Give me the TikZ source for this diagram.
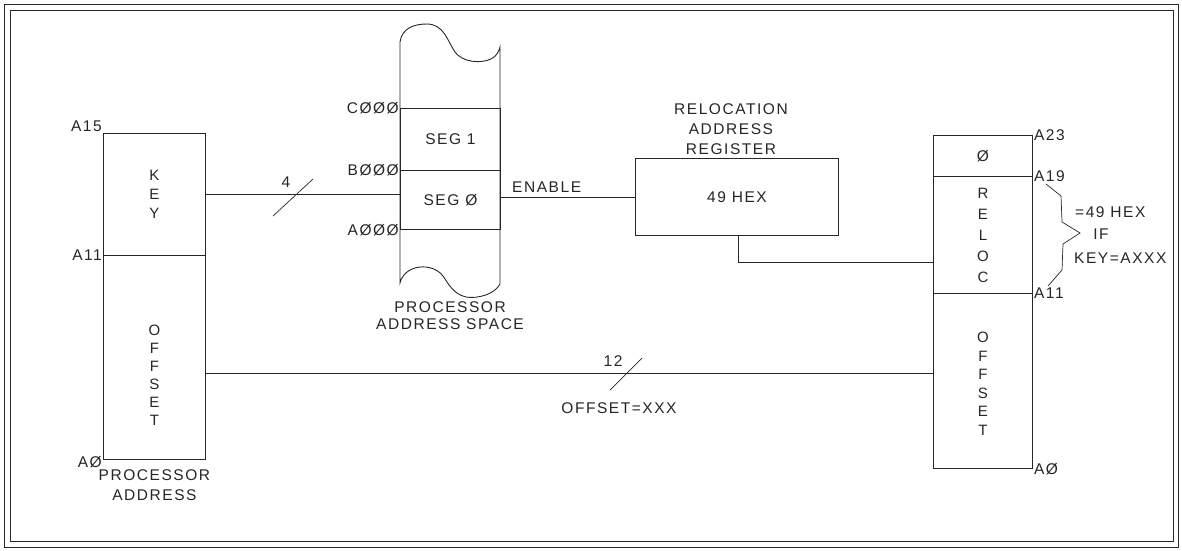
\documentclass[tikz,border=0pt]{standalone}
\usepackage{fontspec}
\newfontfamily\pf[LetterSpace=10]{Liberation Sans}
\begin{document}
\begin{tikzpicture}[x=1pt,y=-1pt,
  every node/.style={font=\pf\fontsize{15.5}{18}\selectfont, text=black!85},
  ln/.style={draw=black!85, line width=0.9pt},
  part/.style={ln, inner sep=0pt, anchor=north west},
  stack/.style={align=center, inner sep=0pt},
  lbl/.style={inner sep=1pt}]
\useasboundingbox (0,0) rectangle (1182,550);
% frame
\draw[ln] (4,4) rectangle (1178,547);
\draw[ln] (10,10) rectangle (1173,541);

% processor address (left)
\node[part, minimum width=102pt, minimum height=122pt] (keyL) at (103,133) {};
\node[part, minimum width=102pt, minimum height=204pt] (offL) at (103,255) {};
\node[stack, font=\pf\fontsize{15}{19}\selectfont] (keyT) at (keyL.center) {K\\E\\Y};
\node[stack, font=\pf\fontsize{15}{18}\selectfont] (offT) at ([yshift=-18pt]offL.center) {O\\F\\F\\S\\E\\T};
\node[lbl, anchor=south east] (a15) at (keyL.north west) {A15};
\node[lbl, anchor=east] (a11) at (offL.north west) {A11};
\node[lbl, anchor=east] (a0l) at ([yshift=-2pt]offL.south west) {AØ};
\node[stack, anchor=north, font=\pf\fontsize{15.5}{20}\selectfont] (paT) at ([yshift=-10pt]offL.south) {PROCESSOR\\ADDRESS};

% processor address space (memory)
\draw[ln] (400,283) -- (400,42)
  .. controls (402,28) and (414,24) .. (427,24)
  .. controls (444,24) and (448,42) .. (455,52)
  .. controls (462,62) and (480,64) .. (491,59)
  .. controls (497,56) and (499,51) .. (500,47)
  -- (500,284)
  .. controls (495,294) and (478,299) .. (466,297)
  .. controls (453,294) and (448,283) .. (443,276)
  .. controls (437,268) and (425,265) .. (415,268)
  .. controls (405,271) and (401,278) .. (400,283) -- cycle;
\node[part, minimum width=100pt, minimum height=62pt] (seg1) at (400,108) {};
\node[part, minimum width=100pt, minimum height=59pt] (seg0) at (400,170) {};
\node at (seg1.center) {SEG 1};
\node at (seg0.center) {SEG Ø};
\node[lbl, anchor=east] (c000) at (seg1.north west) {CØØØ};
\node[lbl, anchor=east] (b000) at (seg0.north west) {BØØØ};
\node[lbl, anchor=east] (a000) at (seg0.south west) {AØØØ};
\node[stack, font=\pf\fontsize{15.5}{17}\selectfont] (pasT) at (450,316) {PROCESSOR\\ADDRESS SPACE};

% relocation address register
\node[part, minimum width=203pt, minimum height=77pt] (reg) at (635,158) {};
\node at (reg.center) {49 HEX};
\node[stack, anchor=south, font=\pf\fontsize{15.5}{20}\selectfont] (regT) at ([xshift=-6pt,yshift=3pt]reg.north) {RELOCATION\\ADDRESS\\REGISTER};

% relocated address (right)
\node[part, minimum width=99pt, minimum height=41pt] (r0) at (933,135) {};
\node[part, minimum width=99pt, minimum height=117pt] (rrel) at (933,176) {};
\node[part, minimum width=99pt, minimum height=175pt] (roff) at (933,293) {};
\node at (r0.center) {Ø};
\node[stack, font=\pf\fontsize{15}{21}\selectfont] (relT) at (rrel.center) {R\\E\\L\\O\\C};
\node[stack, font=\pf\fontsize{15}{18.5}\selectfont] (roffT) at ([yshift=-3pt]roff.center) {O\\F\\F\\S\\E\\T};
\node[lbl, anchor=west] (a23) at (r0.north east) {A23};
\node[lbl, anchor=west] (a19) at (rrel.north east) {A19};
\node[lbl, anchor=west] (a11r) at (roff.north east) {A11};
\node[lbl, anchor=west] (a0r) at (roff.south east) {AØ};

% brace
\coordinate (tip) at (1080,233);
\draw[ln, line width=0.7pt] (1046,184) -- (1061,196) -- (1062,222) -- (tip) -- (1063,244) -- (1062,270) -- (1048,286);
\node[anchor=west, inner sep=0pt] (eq) at (1075,212) {=49 HEX};
\node[inner sep=0pt] (ifT) at (1101,234) {IF};
\node[anchor=west, inner sep=0pt] (keyeq) at (1074,258) {KEY=AXXX};

% connectors
\draw[ln] (keyL.east) -- (keyL.east -| seg0.west);
\coordinate (k4) at (290,194);
\draw[ln, line width=0.7pt] ([shift={(-17,22)}]k4) -- ([shift={(23,-15)}]k4);
\node[inner sep=0pt] (four) at (286,182) {4};

\draw[ln] (seg0.east |- reg.west) -- (reg.west);
\node[anchor=south west, inner sep=0pt] (en) at (512,193) {ENABLE};

\coordinate (bend) at (738,262);
\draw[ln] (reg.south -| bend) -- (bend) -- (bend -| rrel.west);

\coordinate (oy) at (0,373);
\draw[ln] (offL.east |- oy) -- (roff.west |- oy);
\coordinate (k12) at (626,373);
\draw[ln, line width=0.7pt] ([shift={(-16,17)}]k12) -- ([shift={(16,-15)}]k12);
\node[inner sep=0pt] (twelve) at (613,361) {12};
\node[inner sep=0pt] (offx) at (619,408) {OFFSET=XXX};
\end{tikzpicture}
\end{document}
